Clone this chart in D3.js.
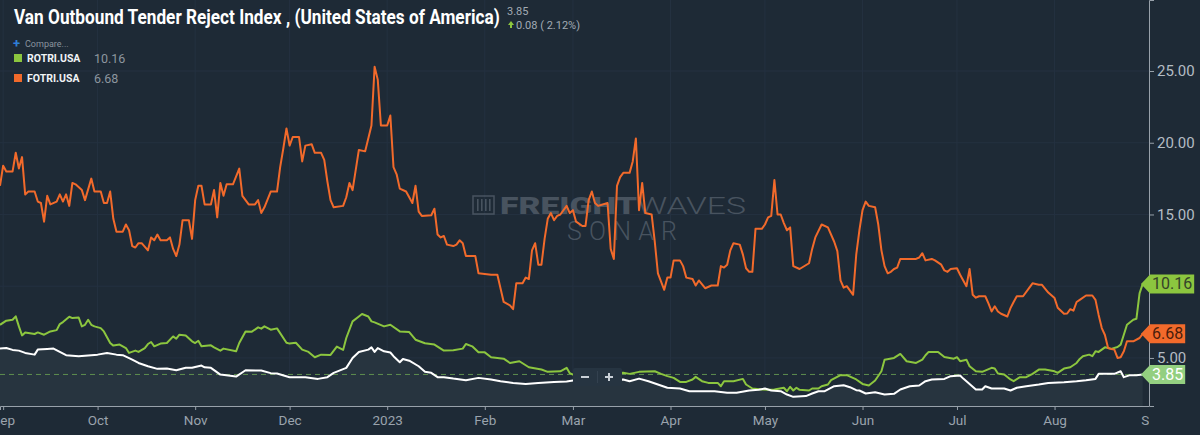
<!DOCTYPE html>
<html>
<head>
<meta charset="utf-8">
<script src="https://cdn.jsdelivr.net/npm/d3@7"></script>
<style>
  html, body { margin: 0; padding: 0; background: #1e2a36; }
  svg { display: block; font-family: Roboto, "Noto Sans", sans-serif; }
</style>
</head>
<body>
<div id="chart"></div>
<script>
// ---- data ----
const title = "Van Outbound Tender Reject Index , (United States of America)";
const lastValue = "3.85";
const lastChange = "0.08 ( 2.12%)";
const compareNames = ["ROTRI.USA", "FOTRI.USA"];
const compareLast = [10.16, 6.68];
const yTicks = [5, 10, 15, 20, 25];
const yLabelTicks = [5, 15, 20, 25];   // 10.00 sits under the 10.16 tag

// VOTRI.USA (main, white line with area)
const votri = [
  ["2022-08-31",5.65],["2022-09-02",5.69],["2022-09-04",5.56],["2022-09-06",5.51],["2022-09-08",5.35],
  ["2022-09-11",5.23],["2022-09-12",5.58],["2022-09-15",5.63],["2022-09-17",5.65],["2022-09-19",5.42],
  ["2022-09-21",5.19],["2022-09-25",5.12],["2022-10-01",5.23],["2022-10-04",5.35],["2022-10-07",5.23],
  ["2022-10-09",5.19],["2022-10-12",4.88],["2022-10-14",4.65],["2022-10-17",4.42],["2022-10-20",4.24],
  ["2022-10-23",4.26],["2022-10-26",4.14],["2022-10-29",4.31],["2022-10-31",4.31],["2022-11-03",4.47],
  ["2022-11-04",4.35],["2022-11-06",4.31],["2022-11-09",3.84],["2022-11-14",3.70],["2022-11-17",4.14],
  ["2022-11-22",4.12],["2022-11-25",3.94],["2022-11-27",3.91],["2022-12-01",3.66],["2022-12-06",3.66],
  ["2022-12-10",3.54],["2022-12-13",3.66],["2022-12-15",3.96],["2022-12-19",4.31],["2022-12-21",5.00],
  ["2022-12-23",5.42],["2022-12-26",5.58],["2022-12-27",5.74],["2022-12-28",5.42],["2022-12-29",5.69],
  ["2022-12-31",5.46],["2023-01-02",5.38],["2023-01-03",5.12],["2023-01-05",4.70],["2023-01-06",4.93],
  ["2023-01-08",4.81],["2023-01-11",4.42],["2023-01-13",4.03],["2023-01-15",3.96],["2023-01-17",3.66],
  ["2023-01-19",3.66],["2023-01-22",3.56],["2023-01-26",3.45],["2023-01-30",3.61],["2023-02-03",3.50],
  ["2023-02-06",3.38],["2023-02-10",3.26],["2023-02-14",3.19],["2023-02-18",3.26],["2023-02-23",3.33],
  ["2023-02-27",3.36],["2023-03-01",3.43],["2023-03-17",3.50],["2023-03-19",3.38],["2023-03-22",3.56],
  ["2023-03-25",3.38],["2023-03-28",3.15],["2023-03-31",2.92],["2023-04-04",2.87],["2023-04-07",2.68],
  ["2023-04-11",2.68],["2023-04-15",2.68],["2023-04-19",2.57],["2023-04-22",2.57],["2023-04-26",2.73],
  ["2023-04-29",2.78],["2023-05-01",2.87],["2023-05-03",2.73],["2023-05-06",2.68],["2023-05-08",2.45],
  ["2023-05-10",2.29],["2023-05-14",2.34],["2023-05-16",2.52],["2023-05-18",2.68],["2023-05-20",2.68],
  ["2023-05-23",3.03],["2023-05-26",3.10],["2023-05-28",2.96],["2023-05-30",2.75],["2023-05-31",2.73],
  ["2023-06-02",2.52],["2023-06-05",2.61],["2023-06-08",2.45],["2023-06-11",2.50],["2023-06-13",2.80],
  ["2023-06-16",3.03],["2023-06-19",3.08],["2023-06-21",3.38],["2023-06-23",3.50],["2023-06-27",3.54],
  ["2023-06-29",3.73],["2023-07-02",3.77],["2023-07-03",3.56],["2023-07-05",3.19],["2023-07-07",2.80],
  ["2023-07-09",2.80],["2023-07-10",3.03],["2023-07-12",2.87],["2023-07-16",2.87],["2023-07-18",2.73],
  ["2023-07-20",2.92],["2023-07-23",3.03],["2023-07-27",3.15],["2023-07-30",3.26],["2023-08-04",3.31],
  ["2023-08-08",3.38],["2023-08-11",3.45],["2023-08-14",3.54],["2023-08-15",3.89],["2023-08-17",3.89],
  ["2023-08-20",3.89],["2023-08-22",4.07],["2023-08-23",3.66],["2023-08-25",3.80],["2023-08-27",3.80],
  ["2023-08-29",3.85]
];

// ROTRI.USA (green)
const rotri = [
  ["2022-08-31",7.31],["2022-09-02",7.60],["2022-09-04",7.66],["2022-09-05",7.90],["2022-09-06",7.20],
  ["2022-09-07",6.57],["2022-09-08",6.78],["2022-09-11",6.67],["2022-09-12",6.78],["2022-09-14",6.62],
  ["2022-09-16",6.85],["2022-09-18",6.94],["2022-09-19",7.36],["2022-09-20",7.50],["2022-09-22",7.87],
  ["2022-09-23",7.78],["2022-09-25",7.82],["2022-09-26",7.20],["2022-09-27",7.31],["2022-09-28",7.66],
  ["2022-09-29",7.31],["2022-09-30",7.20],["2022-10-02",7.08],["2022-10-03",6.85],["2022-10-05",6.04],
  ["2022-10-06",5.86],["2022-10-08",5.93],["2022-10-10",5.69],["2022-10-11",5.35],["2022-10-13",5.51],
  ["2022-10-14",5.42],["2022-10-16",5.69],["2022-10-17",5.97],["2022-10-18",6.11],["2022-10-19",5.81],
  ["2022-10-21",6.00],["2022-10-23",6.04],["2022-10-25",6.50],["2022-10-26",6.34],["2022-10-27",6.62],
  ["2022-10-29",6.57],["2022-10-31",6.16],["2022-11-01",6.04],["2022-11-02",6.20],["2022-11-03",5.81],
  ["2022-11-06",5.88],["2022-11-07",5.74],["2022-11-09",5.51],["2022-11-10",5.65],["2022-11-14",5.46],
  ["2022-11-15",6.04],["2022-11-17",6.85],["2022-11-19",6.83],["2022-11-21",7.13],["2022-11-22",7.04],
  ["2022-11-23",7.20],["2022-11-25",6.97],["2022-11-27",7.06],["2022-11-30",6.06],["2022-12-01",6.00],
  ["2022-12-03",6.06],["2022-12-05",5.58],["2022-12-07",5.42],["2022-12-09",5.05],["2022-12-11",5.23],
  ["2022-12-14",5.21],["2022-12-16",5.79],["2022-12-18",5.56],["2022-12-19",6.39],["2022-12-21",7.55],
  ["2022-12-23",7.89],["2022-12-24",8.06],["2022-12-26",7.89],["2022-12-27",7.55],["2022-12-28",7.48],
  ["2022-12-31",7.20],["2023-01-02",7.31],["2023-01-05",6.85],["2023-01-08",6.80],["2023-01-10",6.27],
  ["2023-01-13",6.02],["2023-01-16",5.93],["2023-01-19",5.51],["2023-01-22",5.53],["2023-01-25",5.65],
  ["2023-01-26",5.97],["2023-01-28",5.81],["2023-01-30",5.39],["2023-02-01",5.39],["2023-02-03",5.05],
  ["2023-02-07",4.95],["2023-02-09",4.65],["2023-02-12",4.77],["2023-02-15",4.35],["2023-02-19",4.19],
  ["2023-02-21",4.03],["2023-02-25",4.07],["2023-02-27",4.31],["2023-02-28",3.94],["2023-03-01",3.84],
  ["2023-03-17",3.96],["2023-03-19",3.89],["2023-03-22",4.03],["2023-03-27",4.07],["2023-03-29",3.89],
  ["2023-03-31",3.73],["2023-04-02",3.61],["2023-04-04",3.33],["2023-04-06",3.33],["2023-04-08",3.50],
  ["2023-04-09",3.68],["2023-04-11",3.38],["2023-04-13",3.26],["2023-04-16",3.26],["2023-04-17",3.03],
  ["2023-04-18",3.38],["2023-04-21",3.38],["2023-04-24",3.54],["2023-04-25",3.15],["2023-04-27",2.87],
  ["2023-04-30",2.80],["2023-05-02",2.78],["2023-05-04",2.80],["2023-05-07",2.92],["2023-05-08",2.68],
  ["2023-05-09",2.99],["2023-05-10",2.73],["2023-05-11",2.92],["2023-05-12",2.78],["2023-05-15",2.73],
  ["2023-05-16",2.87],["2023-05-18",2.87],["2023-05-19",3.03],["2023-05-21",3.15],["2023-05-22",3.45],
  ["2023-05-25",3.80],["2023-05-27",3.80],["2023-05-30",3.50],["2023-06-01",3.19],["2023-06-03",3.08],
  ["2023-06-05",3.43],["2023-06-07",4.07],["2023-06-08",4.88],["2023-06-11",5.00],["2023-06-13",5.28],
  ["2023-06-15",4.77],["2023-06-18",4.65],["2023-06-20",4.88],["2023-06-21",5.19],["2023-06-22",5.42],
  ["2023-06-25",5.42],["2023-06-27",5.07],["2023-06-30",4.95],["2023-07-01",5.05],["2023-07-02",4.77],
  ["2023-07-04",4.88],["2023-07-05",4.42],["2023-07-07",4.07],["2023-07-09",4.03],["2023-07-12",4.31],
  ["2023-07-13",4.26],["2023-07-14",3.91],["2023-07-16",3.84],["2023-07-18",3.50],["2023-07-19",3.38],
  ["2023-07-21",3.66],["2023-07-23",3.66],["2023-07-25",3.89],["2023-07-27",4.19],["2023-07-29",4.19],
  ["2023-08-01",4.07],["2023-08-02",3.96],["2023-08-04",4.26],["2023-08-06",4.35],["2023-08-08",4.65],
  ["2023-08-09",4.93],["2023-08-10",5.12],["2023-08-12",5.23],["2023-08-13",5.12],["2023-08-14",5.46],
  ["2023-08-15",5.42],["2023-08-17",5.74],["2023-08-19",5.63],["2023-08-21",5.76],["2023-08-22",5.93],
  ["2023-08-23",6.62],["2023-08-24",7.31],["2023-08-26",7.66],["2023-08-27",7.73],["2023-08-28",9.50],
  ["2023-08-29",10.16]
];

// FOTRI.USA (orange)
const fotri = [
  ["2022-08-31",17.0],["2022-09-01",18.4],["2022-09-02",18.0],["2022-09-04",18.0],["2022-09-05",19.3],
  ["2022-09-06",18.2],["2022-09-07",19.0],["2022-09-08",16.4],["2022-09-09",16.6],["2022-09-11",16.6],
  ["2022-09-12",15.9],["2022-09-13",15.8],["2022-09-14",14.5],["2022-09-15",16.3],["2022-09-16",15.7],
  ["2022-09-18",15.9],["2022-09-19",16.4],["2022-09-20",15.9],["2022-09-21",16.4],["2022-09-22",15.6],
  ["2022-09-23",17.2],["2022-09-24",17.1],["2022-09-26",16.7],["2022-09-27",16.0],["2022-09-29",17.5],
  ["2022-09-30",16.6],["2022-10-02",16.6],["2022-10-03",15.8],["2022-10-04",15.8],["2022-10-05",16.6],
  ["2022-10-06",14.7],["2022-10-07",13.8],["2022-10-09",13.8],["2022-10-10",14.3],["2022-10-11",13.9],
  ["2022-10-12",12.8],["2022-10-13",12.7],["2022-10-14",13.0],["2022-10-15",13.0],["2022-10-17",12.5],
  ["2022-10-18",13.4],["2022-10-19",13.2],["2022-10-20",13.6],["2022-10-21",13.2],["2022-10-23",13.2],
  ["2022-10-24",13.4],["2022-10-25",12.6],["2022-10-26",12.1],["2022-10-27",12.9],["2022-10-28",14.6],
  ["2022-10-30",14.6],["2022-10-31",13.3],["2022-11-01",16.0],["2022-11-02",17.0],["2022-11-03",17.0],
  ["2022-11-04",15.7],["2022-11-06",15.7],["2022-11-07",16.7],["2022-11-08",14.8],["2022-11-09",17.2],
  ["2022-11-10",16.3],["2022-11-11",17.1],["2022-11-13",17.1],["2022-11-15",18.2],["2022-11-16",16.3],
  ["2022-11-17",16.0],["2022-11-18",15.7],["2022-11-20",15.7],["2022-11-21",16.0],["2022-11-22",15.1],
  ["2022-11-23",15.5],["2022-11-25",16.6],["2022-11-27",16.6],["2022-11-28",18.3],["2022-11-29",19.6],
  ["2022-11-30",21.0],["2022-12-01",19.8],["2022-12-02",20.4],["2022-12-04",20.4],["2022-12-05",18.7],
  ["2022-12-06",19.8],["2022-12-08",19.9],["2022-12-09",19.3],["2022-12-11",19.3],["2022-12-12",18.8],
  ["2022-12-13",17.3],["2022-12-14",16.0],["2022-12-15",15.5],["2022-12-18",15.6],["2022-12-19",16.2],
  ["2022-12-20",17.2],["2022-12-21",16.7],["2022-12-23",19.5],["2022-12-25",19.4],["2022-12-27",21.2],
  ["2022-12-28",25.3],["2022-12-29",24.4],["2022-12-30",21.2],["2023-01-01",21.2],["2023-01-02",21.9],
  ["2023-01-03",18.3],["2023-01-04",17.8],["2023-01-05",16.8],["2023-01-07",16.6],["2023-01-09",15.8],
  ["2023-01-10",17.0],["2023-01-11",15.2],["2023-01-12",14.9],["2023-01-15",14.95],["2023-01-16",15.4],
  ["2023-01-17",13.6],["2023-01-18",13.4],["2023-01-19",13.5],["2023-01-20",12.9],["2023-01-22",12.8],
  ["2023-01-23",12.9],["2023-01-24",13.2],["2023-01-25",13.0],["2023-01-26",12.1],["2023-01-29",12.1],
  ["2023-01-30",10.9],["2023-02-03",10.8],["2023-02-05",10.8],["2023-02-07",8.9],["2023-02-09",8.66],
  ["2023-02-10",8.4],["2023-02-11",10.2],["2023-02-13",10.2],["2023-02-14",10.6],["2023-02-15",10.5],
  ["2023-02-16",12.5],["2023-02-17",13.0],["2023-02-18",11.5],["2023-02-19",11.5],["2023-02-20",13.3],
  ["2023-02-21",14.7],["2023-02-22",15.1],["2023-02-23",14.6],["2023-02-24",14.9],["2023-02-25",15.0],
  ["2023-02-27",15.6],["2023-02-28",15.1],["2023-03-01",15.3],["2023-03-02",14.5],["2023-03-04",14.2],
  ["2023-03-05",14.2],["2023-03-06",16.0],["2023-03-07",16.6],["2023-03-08",15.8],["2023-03-09",15.6],
  ["2023-03-12",15.8],["2023-03-13",12.6],["2023-03-14",11.9],["2023-03-15",17.0],["2023-03-16",17.6],
  ["2023-03-17",17.9],["2023-03-19",17.9],["2023-03-20",18.7],["2023-03-21",20.3],["2023-03-22",15.3],
  ["2023-03-23",17.2],["2023-03-24",15.1],["2023-03-26",15.0],["2023-03-27",13.1],["2023-03-28",10.9],
  ["2023-03-30",9.75],["2023-03-31",10.6],["2023-04-01",10.6],["2023-04-02",11.8],["2023-04-04",11.8],
  ["2023-04-05",11.4],["2023-04-06",10.6],["2023-04-08",10.5],["2023-04-09",10.05],["2023-04-10",10.4],
  ["2023-04-12",9.86],["2023-04-14",10.05],["2023-04-16",10.05],["2023-04-17",11.4],["2023-04-18",11.3],
  ["2023-04-19",11.5],["2023-04-20",12.5],["2023-04-21",13.0],["2023-04-23",12.9],["2023-04-24",12.2],
  ["2023-04-25",11.25],["2023-04-26",11.0],["2023-04-27",11.0],["2023-04-28",14.0],["2023-04-30",14.0],
  ["2023-05-01",14.3],["2023-05-02",14.8],["2023-05-03",14.9],["2023-05-04",17.4],["2023-05-05",15.0],
  ["2023-05-06",15.0],["2023-05-07",14.4],["2023-05-08",13.9],["2023-05-09",14.1],["2023-05-10",11.4],
  ["2023-05-12",11.2],["2023-05-15",11.6],["2023-05-16",12.6],["2023-05-17",13.4],["2023-05-19",14.3],
  ["2023-05-21",14.1],["2023-05-23",13.1],["2023-05-24",12.45],["2023-05-25",10.4],["2023-05-26",9.9],
  ["2023-05-27",10.0],["2023-05-29",9.4],["2023-05-30",12.2],["2023-05-31",13.9],["2023-06-01",15.3],
  ["2023-06-02",15.9],["2023-06-03",15.6],["2023-06-05",15.5],["2023-06-06",14.3],["2023-06-07",12.5],
  ["2023-06-08",11.4],["2023-06-09",10.9],["2023-06-10",11.0],["2023-06-11",11.2],["2023-06-12",11.3],
  ["2023-06-13",11.9],["2023-06-15",11.9],["2023-06-18",11.9],["2023-06-19",12.0],["2023-06-20",12.3],
  ["2023-06-21",11.8],["2023-06-23",11.9],["2023-06-24",11.8],["2023-06-26",11.5],["2023-06-27",11.1],
  ["2023-06-28",11.0],["2023-06-29",11.2],["2023-07-01",11.25],["2023-07-02",10.8],["2023-07-03",10.4],
  ["2023-07-04",10.0],["2023-07-05",11.2],["2023-07-06",9.4],["2023-07-07",9.2],["2023-07-08",9.3],
  ["2023-07-10",9.3],["2023-07-11",8.8],["2023-07-12",8.24],["2023-07-13",8.6],["2023-07-14",8.24],
  ["2023-07-15",8.08],["2023-07-17",7.89],["2023-07-18",8.47],["2023-07-19",8.9],["2023-07-20",9.3],
  ["2023-07-22",9.3],["2023-07-24",9.9],["2023-07-25",10.2],["2023-07-27",10.1],["2023-07-28",10.1],
  ["2023-07-30",9.56],["2023-08-01",9.17],["2023-08-02",8.5],["2023-08-04",8.08],["2023-08-05",8.1],
  ["2023-08-06",8.4],["2023-08-07",8.3],["2023-08-08",8.9],["2023-08-09",9.05],["2023-08-11",9.35],
  ["2023-08-13",9.35],["2023-08-14",9.05],["2023-08-15",8.0],["2023-08-16",7.08],["2023-08-17",6.6],
  ["2023-08-18",5.69],["2023-08-19",5.63],["2023-08-20",5.58],["2023-08-21",5.0],["2023-08-22",5.05],
  ["2023-08-23",5.46],["2023-08-24",6.16],["2023-08-26",6.16],["2023-08-28",6.39],["2023-08-29",6.68]
];

// ---- layout ----
const width = 1200, height = 435;
const plotRight = 1149, plotBottom = 406;
const parse = d3.timeParse("%Y-%m-%d");
const toPoints = arr => arr.map(d => ({ date: parse(d[0]), value: d[1] }));

const colors = { bg: "#1e2a36", area: "#27343f", grid: "#243140", green: "#8cc63f", orange: "#f26a2b",
                 white: "#ffffff", axis: "#98a1aa", label: "#b4bcc4", tagMain: "#93cf80" };

const x = d3.scaleTime()
    .domain([parse("2022-08-31"), parse("2023-08-31")])
    .range([0, plotRight]);
const y = d3.scaleLinear()
    .domain([1.65, 29.95])
    .range([plotBottom, 0]);

const svg = d3.select("#chart").append("svg")
    .attr("width", width)
    .attr("height", height);

svg.append("rect").attr("width", width).attr("height", height).attr("fill", colors.bg);

const defs = svg.append("defs");
defs.append("clipPath").attr("id", "plotClip")
    .append("rect").attr("x", 0).attr("y", 0).attr("width", plotRight).attr("height", plotBottom);
// local to the x-axis group (which is translated to the bottom)
defs.append("clipPath").attr("id", "xClip")
    .append("rect").attr("x", 0).attr("y", -2).attr("width", plotRight).attr("height", 40);

// grid
const monthTicks = d3.timeMonth.range(parse("2022-09-01"), parse("2023-09-02"));
svg.append("g").selectAll("line").data(yTicks).join("line")
    .attr("x1", 0).attr("x2", plotRight)
    .attr("y1", d => y(d)).attr("y2", d => y(d))
    .attr("stroke", colors.grid);
svg.append("g").selectAll("line").data(monthTicks.filter(d => x(d) < plotRight)).join("line")
    .attr("x1", d => x(d)).attr("x2", d => x(d))
    .attr("y1", 0).attr("y2", plotBottom)
    .attr("stroke", colors.grid);

// watermark
const wm = svg.append("g").attr("opacity", 0.55).attr("fill", "#6b7682");
const logo = wm.append("g").attr("transform", "translate(473,196)");
logo.append("rect").attr("width", 21).attr("height", 18).attr("fill", "none").attr("stroke", "#6b7682").attr("stroke-width", 1.5);
[4, 8, 12, 16].forEach(p => logo.append("rect").attr("x", p).attr("y", 3).attr("width", 1.6).attr("height", 12));
const wmText = wm.append("text").attr("x", 500).attr("y", 214)
    .attr("font-size", 23).attr("textLength", 246).attr("lengthAdjust", "spacingAndGlyphs");
wmText.append("tspan").attr("font-weight", 900).text("FREIGHT");
wmText.append("tspan").attr("font-weight", 300).text("WAVES");
wm.append("text").attr("x", 567).attr("y", 240)
    .attr("font-size", 25).attr("font-weight", 300)
    .attr("textLength", 110).attr("lengthAdjust", "spacing")
    .text("SONAR");

// series
const main = toPoints(votri), reefer = toPoints(rotri), flatbed = toPoints(fotri);
const plot = svg.append("g").attr("clip-path", "url(#plotClip)");

plot.append("path").datum(main)
    .attr("fill", colors.area)
    .attr("d", d3.area().x(d => x(d.date)).y0(plotBottom).y1(d => y(d.value)));

plot.append("line")
    .attr("x1", 0).attr("x2", 1141)
    .attr("y1", y(+lastValue)).attr("y2", y(+lastValue))
    .attr("stroke", "#5f8f4f").attr("stroke-dasharray", "5,4");

const line = d3.line().x(d => x(d.date)).y(d => y(d.value));
[[reefer, colors.green], [flatbed, colors.orange], [main, colors.white]].forEach(([data, c]) => {
    plot.append("path").datum(data)
        .attr("fill", "none")
        .attr("stroke", c)
        .attr("stroke-width", 2)
        .attr("stroke-linejoin", "round")
        .attr("d", line);
});

// zoom buttons box covering the lines around March
const zb = svg.append("g");
zb.append("rect").attr("x", 573).attr("y", 368).attr("width", 49).attr("height", 18).attr("rx", 2).attr("fill", "#263441");
zb.append("line").attr("x1", 597.5).attr("x2", 597.5).attr("y1", 371).attr("y2", 383).attr("stroke", "#33414f");
zb.append("rect").attr("x", 581).attr("y", 376).attr("width", 8).attr("height", 2).attr("fill", "#c9d0d7");
zb.append("rect").attr("x", 605).attr("y", 376).attr("width", 8).attr("height", 2).attr("fill", "#c9d0d7");
zb.append("rect").attr("x", 608).attr("y", 373).attr("width", 2).attr("height", 8).attr("fill", "#c9d0d7");

// axes
const yAxis = svg.append("g")
    .attr("transform", `translate(${plotRight},0)`)
    .call(d3.axisRight(y).tickValues(yLabelTicks).tickSize(5).tickPadding(3).tickFormat(d3.format(".2f")));
yAxis.select(".domain").attr("stroke", colors.axis);
yAxis.selectAll(".tick line").attr("stroke", colors.axis);
yAxis.selectAll(".tick text").attr("fill", colors.label).attr("font-size", 15).attr("font-family", "Roboto");

const xAxis = svg.append("g")
    .attr("transform", `translate(0,${plotBottom})`)
    .attr("clip-path", "url(#xClip)");
xAxis.call(d3.axisBottom(x).tickValues(monthTicks).tickSize(4).tickPadding(5)
    .tickFormat(d => d.getMonth() === 0 ? d3.timeFormat("%Y")(d) : d3.timeFormat("%b")(d)));
xAxis.select(".domain").attr("stroke", colors.axis);
xAxis.selectAll(".tick line").attr("stroke", colors.axis);
xAxis.selectAll(".tick text").attr("fill", "#9aa3ad").attr("font-size", 13.5).attr("font-family", "Roboto");

// price tags on the right axis
function tag(value, fill, textColor, label) {
    const cy = y(value);
    const g = svg.append("g");
    const t = g.append("text").attr("x", 1152).attr("y", cy + 5.5)
        .attr("font-size", 16).attr("fill", textColor).text(label);
    const w = t.node().getComputedTextLength();
    g.insert("path", "text")
        .attr("d", `M1141,${cy} L1150,${cy - 9.5} L${1154 + w},${cy - 9.5} L${1154 + w},${cy + 9.5} L1150,${cy + 9.5} Z`)
        .attr("fill", fill);
}
tag(compareLast[0], colors.green, "#34422a", compareLast[0].toFixed(2));
tag(compareLast[1], colors.orange, "#4a1d0c", compareLast[1].toFixed(2));
tag(+lastValue, colors.tagMain, "#ffffff", lastValue);

// header: title squeezed horizontally like the condensed original
const titleText = svg.append("text")
    .attr("font-size", 20).attr("font-weight", 700).attr("fill", "#ffffff")
    .text(title);
const tw = titleText.node().getComputedTextLength();
titleText.attr("transform", `translate(14,24) scale(${486 / tw},1)`);

svg.append("text").attr("x", 507).attr("y", 15).attr("font-size", 11).attr("fill", "#a2abb4").text(lastValue);
svg.append("path").attr("d", "M508,25 L511,21 L514,25 Z").attr("fill", colors.green);
svg.append("rect").attr("x", 510).attr("y", 25).attr("width", 2).attr("height", 3).attr("fill", colors.green);
svg.append("text").attr("x", 516).attr("y", 28.5).attr("font-size", 11).attr("fill", "#a2abb4").text(lastChange);

svg.append("text").attr("x", 13).attr("y", 48).attr("font-size", 13).attr("font-weight", 700).attr("fill", "#2f7fd8").text("+");
svg.append("text").attr("x", 25).attr("y", 47).attr("font-size", 9).attr("fill", "#8a949e").text("Compare...");

const legend = svg.append("g").selectAll("g").data(compareNames).join("g")
    .attr("transform", (d, i) => `translate(14,${54 + i * 20})`);
legend.append("rect").attr("width", 8).attr("height", 8)
    .attr("fill", (d, i) => i === 0 ? colors.green : colors.orange);
legend.append("text").attr("x", 13).attr("y", 8).attr("font-size", 10.5).attr("font-weight", 700)
    .attr("fill", "#f0f3f5").text(d => d);
legend.append("text").attr("x", 80).attr("y", 9).attr("font-size", 12.5).attr("fill", "#8d969f")
    .text((d, i) => compareLast[i].toFixed(2));
</script>
</body>
</html>
